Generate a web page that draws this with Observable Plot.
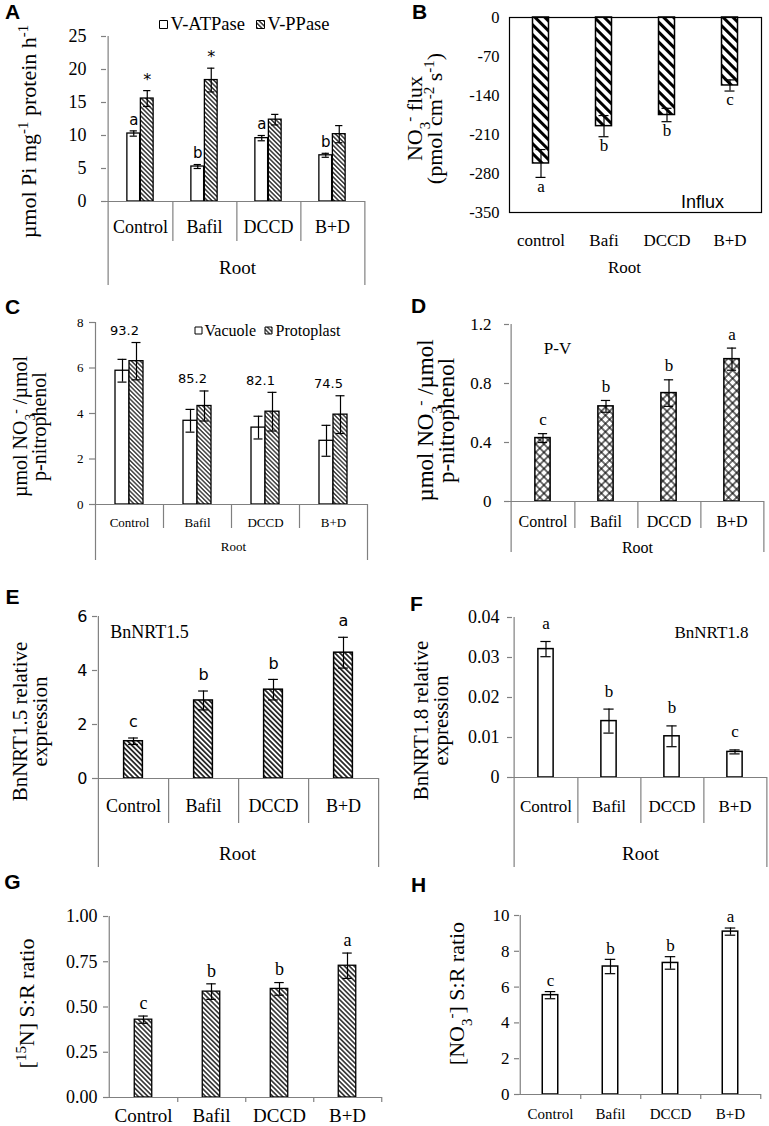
<!DOCTYPE html>
<html><head><meta charset="utf-8">
<script src="https://cdn.jsdelivr.net/npm/d3@7"></script>
<script src="https://cdn.jsdelivr.net/npm/@observablehq/plot@0.6"></script>
<style>
html,body{margin:0;padding:0;background:#fff;}
#fig{position:relative;width:769px;height:1126px;overflow:hidden;background:#fff;}
#fig svg{position:absolute;}
</style></head>
<body><div id="fig"></div>
<script>
// ---------- data ----------
const categories = ["Control", "Bafil", "DCCD", "B+D"];
const categoriesB = ["control", "Bafi", "DCCD", "B+D"];
// A
const vATPase = [10.3, 5.3, 9.6, 7.0];
const vATPaseErr = [0.4, 0.3, 0.4, 0.3];
const vPPase = [15.6, 18.4, 12.4, 10.2];
const vPPaseErr = [1.2, 1.8, 0.8, 1.3];
const lettersA = ["a", "b", "a", "b"];
const starsA = ["*", "*", "", ""];
const ticksA = [0, 5, 10, 15, 20, 25];
// B
const fluxB = [-262, -195, -175, -122];
const fluxBErr = [25, 19, 12, 10];
const lettersB = ["a", "b", "b", "c"];
const ticksB = [0, -70, -140, -210, -280, -350];
// C
const vacuoleC = [5.88, 3.68, 3.38, 2.8];
const vacuoleCErr = [0.5, 0.5, 0.5, 0.68];
const protoplastC = [6.3, 4.33, 4.08, 3.95];
const protoplastCErr = [0.82, 0.66, 0.85, 0.83];
const percentC = ["93.2", "85.2", "82.1", "74.5"];
const ticksC = [0, 2, 4, 6, 8];
// D
const pvD = [0.43, 0.645, 0.735, 0.965];
const pvDErr = [0.03, 0.04, 0.09, 0.075];
const lettersD = ["c", "b", "b", "a"];
const ticksD = [0, 0.4, 0.8, 1.2];
// E
const nrt15E = [1.38, 2.89, 3.29, 4.66];
const nrt15EErr = [0.12, 0.35, 0.38, 0.57];
const lettersE = ["c", "b", "b", "a"];
const ticksE = [0, 2, 4, 6];
// F
const nrt18F = [0.0321, 0.0141, 0.0103, 0.0064];
const nrt18FErr = [0.0019, 0.003, 0.0026, 0.0005];
const lettersF = ["a", "b", "b", "c"];
const ticksF = [0, 0.01, 0.02, 0.03, 0.04];
// G
const n15G = [0.43, 0.585, 0.6, 0.728];
const n15GErr = [0.02, 0.043, 0.035, 0.07];
const lettersG = ["c", "b", "b", "a"];
const ticksG = [0, 0.25, 0.5, 0.75, 1];
// H
const no3H = [5.55, 7.15, 7.35, 9.1];
const no3HErr = [0.2, 0.4, 0.35, 0.2];
const lettersH = ["c", "b", "b", "a"];
const ticksH = [0, 2, 4, 6, 8, 10];

// ---------- helpers ----------
const SERIF = "'Liberation Serif','DejaVu Serif','Times New Roman',Times,serif";
const SANS = "'DejaVu Sans',Verdana,sans-serif";
const ARIAL = "'Liberation Sans',Arial,Helvetica,sans-serif";
const SVGNS = "http://www.w3.org/2000/svg";
const fig = document.getElementById("fig");

function hatch(id, s, w) {
  return `<pattern id="${id}" patternUnits="userSpaceOnUse" width="${s}" height="${s}" patternTransform="rotate(-45)"><rect width="${s}" height="${s}" fill="white"/><line x1="${s/2}" y1="-1" x2="${s/2}" y2="${s+1}" stroke="black" stroke-width="${w}"/></pattern>`;
}
function cross(id, s, w) {
  return `<pattern id="${id}" patternUnits="userSpaceOnUse" width="${s}" height="${s}" patternTransform="rotate(45)"><rect width="${s}" height="${s}" fill="white"/><line x1="${s/2}" y1="-1" x2="${s/2}" y2="${s+1}" stroke="black" stroke-width="${w}"/><line x1="-1" y1="${s/2}" x2="${s+1}" y2="${s/2}" stroke="black" stroke-width="${w}"/></pattern>`;
}

// turn unicode super/subscript characters into real tspans
const SCRIPT = {"⁻": ["-", "sup"], "¹": ["1", "sup"], "²": ["2", "sup"], "⁵": ["5", "sup"], "₃": ["3", "sub"]};
function richify(svg) {
  const walker = document.createTreeWalker(svg, NodeFilter.SHOW_TEXT);
  const nodes = [];
  while (walker.nextNode()) nodes.push(walker.currentNode);
  nodes.forEach(tn => {
    const s = tn.nodeValue;
    if (![...s].some(ch => SCRIPT[ch])) return;
    const frag = document.createDocumentFragment();
    let buf = "", mode = null;
    const flush = () => {
      if (!buf) return;
      if (mode) {
        const t = document.createElementNS(SVGNS, "tspan");
        t.setAttribute("font-size", "68%");
        t.setAttribute("baseline-shift", mode === "sup" ? "super" : "sub");
        t.textContent = buf;
        frag.appendChild(t);
      } else frag.appendChild(document.createTextNode(buf));
      buf = "";
    };
    for (const ch of s) {
      const m = SCRIPT[ch] ? SCRIPT[ch][1] : null;
      if (m !== mode) { flush(); mode = m; }
      buf += SCRIPT[ch] ? SCRIPT[ch][0] : ch;
    }
    flush();
    tn.parentNode.replaceChild(frag, tn);
  });
}

function panel(c) {
  const ox = c.left + c.ml, oy = c.top + c.mt;
  const pw = c.width - c.ml - c.mr, ph = c.height - c.mt - c.mb;
  const bw = pw / c.cats.length;
  const at = (px, py) => ({frameAnchor: "top-left", dx: px - ox, dy: py - oy});
  const axisColor = c.axisColor || "#808080";
  const lw = 1.2;
  const marks = [];

  // bars, error bars, letters
  const tops = c.cats.map(() => -Infinity);
  c.series.forEach(s => {
    const data = c.cats.map((k, i) => ({cat: k, v: s.values[i], e: s.errs[i], lab: s.labels ? s.labels[i] : ""}));
    data.forEach((d, i) => { tops[i] = Math.max(tops[i], d.v + d.e); });
    const insL = bw / 2 + s.offset - s.barW / 2, insR = bw / 2 - s.offset - s.barW / 2;
    marks.push(Plot.barY(data, {x: "cat", y: "v", fill: s.fill, stroke: "black", strokeWidth: s.sw || 1.3, insetLeft: insL, insetRight: insR}));
    marks.push(Plot.ruleX(data, {x: "cat", y1: d => d.v - d.e, y2: d => d.v + d.e, dx: s.offset, stroke: "black", strokeWidth: lw}));
    const capL = bw / 2 + s.offset - c.cap / 2, capR = bw / 2 - s.offset - c.cap / 2;
    marks.push(Plot.tickY(data, {x: "cat", y: d => d.v + d.e, insetLeft: capL, insetRight: capR, stroke: "black", strokeWidth: lw}));
    marks.push(Plot.tickY(data, {x: "cat", y: d => d.v - d.e, insetLeft: capL, insetRight: capR, stroke: "black", strokeWidth: lw}));
    if (s.labels) {
      marks.push(Plot.text(data.filter(d => d.lab), {
        x: "cat", y: s.below ? (d => d.v - d.e) : (d => d.v + d.e), text: "lab",
        dx: s.offset, dy: s.below ? s.labGap : -s.labGap,
        fontFamily: s.labFont, fontSize: s.labSize, lineAnchor: "middle", textAnchor: "middle", fill: "black"
      }));
    }
  });
  if (c.groupLabels) {
    const g = c.groupLabels;
    const gd = c.cats.map((k, i) => ({cat: k, top: tops[i], t: g.texts[i]}));
    marks.push(Plot.text(gd, {x: "cat", y: "top", text: "t", dx: g.dx, dy: -g.gap, fontFamily: g.font, fontSize: g.size, lineAnchor: "middle", fill: "black"}));
  }

  // axes structure
  if (c.xStyle === "frame") {
    marks.push(Plot.frame({stroke: "black", strokeWidth: lw}));
  } else {
    marks.push(Plot.ruleY([0], {stroke: axisColor, strokeWidth: lw}));
    marks.push(Plot.ruleX(c.cats.slice(0, 1), {x: d => d, dx: -bw / 2, insetBottom: -(c.longExt || 0), stroke: axisColor, strokeWidth: lw}));
    if (c.xStyle === "excel") {
      marks.push(Plot.ruleX(c.cats.slice(-1), {x: d => d, dx: bw / 2, insetTop: ph, insetBottom: -c.longExt, stroke: axisColor, strokeWidth: lw}));
      marks.push(Plot.ruleX(c.cats.slice(0, -1), {x: d => d, dx: bw / 2, insetTop: ph, insetBottom: -c.divExt, stroke: axisColor, strokeWidth: lw}));
    } else {
      marks.push(Plot.ruleX(c.cats, {x: d => d, dx: bw / 2, insetTop: ph, insetBottom: -5, stroke: axisColor, strokeWidth: lw}));
    }
  }
  marks.push(Plot.axisY(c.yTicks, {
    anchor: "left", tickSize: c.tickSize, tickPadding: c.tickPad, tickFormat: c.tickFmt,
    fontSize: c.tickFontSize, fontFamily: c.tickFont, color: "black", stroke: axisColor, strokeWidth: lw, label: null
  }));

  // category labels
  marks.push(Plot.text(c.cats.map((k, i) => ({cat: k, t: c.catLabels[i]})), {
    x: "cat", text: "t", frameAnchor: "bottom", dy: c.catY - (oy + ph),
    fontFamily: SERIF, fontSize: c.catSize, lineAnchor: "middle", fill: "black"
  }));
  if (c.root) {
    marks.push(Plot.text(["Root"], {...at(c.root.x, c.root.y), textAnchor: "middle", lineAnchor: "middle", fontFamily: SERIF, fontSize: c.root.size, fill: "black"}));
  }
  // y title
  const yt = c.ytitle;
  marks.push(Plot.text([yt.text], {...at(yt.x, yt.y), rotate: -90, textAnchor: "middle", lineAnchor: "middle", fontFamily: SERIF, fontSize: yt.size, lineHeight: yt.lh || 1, fill: "black"}));
  // extras
  (c.extras || []).forEach(e => {
    marks.push(Plot.text([e.text], {...at(e.x, e.y), textAnchor: "middle", lineAnchor: "middle", fontFamily: e.font, fontSize: e.size, fill: "black"}));
  });
  // legend
  if (c.legend) {
    c.legend.items.forEach(it => {
      marks.push(Plot.dot([0], {...at(it.x, it.y), symbol: "square", r: c.legend.sw / Math.sqrt(Math.PI), fill: it.fill, stroke: "black", strokeWidth: 1}));
      marks.push(Plot.text([it.label], {...at(it.tx, it.y), textAnchor: "start", lineAnchor: "middle", fontFamily: SERIF, fontSize: c.legend.size, fill: "black"}));
    });
  }
  // panel letter
  marks.push(Plot.text([c.letter.t], {...at(c.letter.x, c.letter.y), textAnchor: "middle", lineAnchor: "middle", fontFamily: ARIAL, fontWeight: "bold", fontSize: 21, fill: "black"}));

  const svg = Plot.plot({
    width: c.width, height: c.height,
    marginLeft: c.ml, marginRight: c.mr, marginTop: c.mt, marginBottom: c.mb,
    x: {type: "band", domain: c.cats, padding: 0, axis: null},
    y: {domain: c.yDomain},
    style: {fontFamily: SERIF, fontSize: "16px", background: "transparent", color: "black", overflow: "visible"},
    marks
  });
  if (c.defs) {
    const d = document.createElementNS(SVGNS, "defs");
    d.innerHTML = c.defs;
    svg.insertBefore(d, svg.firstChild);
  }
  richify(svg);
  svg.style.left = c.left + "px";
  svg.style.top = c.top + "px";
  fig.appendChild(svg);
}

const fmtPlain = d => String(d);
const fmtZero = d => d === 0 ? "0" : String(d);

// ---------- A ----------
panel({
  left: 0, top: 0, width: 384, height: 285, ml: 106, mr: 19, mt: 36, mb: 84,
  cats: categories, catLabels: categories, yDomain: [0, 25], yTicks: ticksA, tickFmt: fmtPlain,
  tickFont: SERIF, tickFontSize: 18, tickSize: 5, tickPad: 15,
  xStyle: "excel", longExt: 84, divExt: 40, cap: 8,
  series: [
    {values: vATPase, errs: vATPaseErr, fill: "white", barW: 13.5, offset: -6.75, labels: lettersA, labFont: SANS, labSize: 15, labGap: 11},
    {values: vPPase, errs: vPPaseErr, fill: "url(#hA)", barW: 13.5, offset: 6.75, labels: starsA, labFont: SANS, labSize: 16, labGap: 11}
  ],
  catY: 227, catSize: 18, root: {x: 237, y: 267, size: 19},
  ytitle: {text: "µmol Pi mg⁻¹ protein h⁻¹", x: 28, y: 131, size: 22},
  legend: {size: 18.5, sw: 8, items: [
    {x: 163, y: 24, fill: "white", label: "V-ATPase", tx: 170},
    {x: 260, y: 24, fill: "url(#hA)", label: "V-PPase", tx: 267}
  ]},
  letter: {t: "A", x: 12, y: 12},
  defs: hatch("hA", 3.2, 1.2)
});

// ---------- B ----------
panel({
  left: 384, top: 0, width: 385, height: 285, ml: 125, mr: 8, mt: 17, mb: 73,
  cats: categoriesB, catLabels: categoriesB, yDomain: [-350, 0], yTicks: ticksB, tickFmt: fmtPlain,
  tickFont: SERIF, tickFontSize: 16.5, tickSize: 0, tickPad: 10, axisColor: "black",
  xStyle: "frame", cap: 10,
  series: [
    {values: fluxB, errs: fluxBErr, fill: "url(#hB)", barW: 16, offset: 0, sw: 1.5, labels: lettersB, below: true, labFont: SERIF, labSize: 17, labGap: 9}
  ],
  catY: 240, catSize: 17, root: {x: 624, y: 267, size: 17},
  ytitle: {text: "NO₃⁻ flux\n(pmol cm⁻² s⁻¹)", x: 425, y: 118, size: 22, lh: 0.92},
  extras: [{text: "Influx", x: 702, y: 202, font: ARIAL, size: 18}],
  letter: {t: "B", x: 419, y: 12},
  defs: hatch("hB", 7, 3)
});

// ---------- C ----------
panel({
  left: 0, top: 280, width: 384, height: 282, ml: 95, mr: 17, mt: 42, mb: 58,
  cats: categories, catLabels: categories, yDomain: [0, 8], yTicks: ticksC, tickFmt: fmtPlain,
  tickFont: SERIF, tickFontSize: 13, tickSize: 6, tickPad: 6,
  xStyle: "excel", longExt: 56, divExt: 24, cap: 9,
  series: [
    {values: vacuoleC, errs: vacuoleCErr, fill: "white", barW: 14, offset: -7},
    {values: protoplastC, errs: protoplastCErr, fill: "url(#hC)", barW: 14, offset: 7}
  ],
  groupLabels: {texts: percentC, font: SANS, size: 13, gap: 12, dx: -5},
  catY: 522, catSize: 13, root: {x: 233, y: 546, size: 13},
  ytitle: {text: "µmol NO₃⁻ /µmol\np-nitrophenol", x: 30, y: 426, size: 20, lh: 0.95},
  legend: {size: 16, sw: 7, items: [
    {x: 198, y: 330, fill: "white", label: "Vacuole", tx: 204},
    {x: 268, y: 330, fill: "url(#hC)", label: "Protoplast", tx: 275}
  ]},
  letter: {t: "C", x: 12, y: 307},
  defs: hatch("hC", 3.1, 1.1)
});

// ---------- D ----------
panel({
  left: 384, top: 280, width: 385, height: 282, ml: 125, mr: 5, mt: 44, mb: 61,
  cats: categories, catLabels: categories, yDomain: [0, 1.2], yTicks: ticksD, tickFmt: fmtZero,
  tickFont: SERIF, tickFontSize: 17, tickSize: 5, tickPad: 13,
  xStyle: "excel", longExt: 51, divExt: 27, cap: 10,
  series: [
    {values: pvD, errs: pvDErr, fill: "url(#xD)", barW: 16, offset: 0, sw: 1.5, labels: lettersD, labFont: SERIF, labSize: 17, labGap: 14}
  ],
  catY: 521, catSize: 16, root: {x: 637, y: 547, size: 16},
  ytitle: {text: "µmol NO₃⁻ /µmol\np-nitrophenol", x: 436, y: 420, size: 23, lh: 0.92},
  extras: [{text: "P-V", x: 557, y: 348, font: SERIF, size: 17}],
  letter: {t: "D", x: 418, y: 306},
  defs: cross("xD", 5.8, 1.1)
});

// ---------- E ----------
panel({
  left: 0, top: 560, width: 384, height: 310, ml: 97, mr: 6, mt: 56, mb: 92,
  cats: categories, catLabels: categories, yDomain: [0, 6], yTicks: ticksE, tickFmt: fmtPlain,
  tickFont: SANS, tickFontSize: 16, tickSize: 5, tickPad: 5,
  xStyle: "excel", longExt: 89, divExt: 45, cap: 10,
  series: [
    {values: nrt15E, errs: nrt15EErr, fill: "url(#hE)", barW: 19, offset: 0, sw: 1.5, labels: lettersE, labFont: SANS, labSize: 16, labGap: 16}
  ],
  catY: 806, catSize: 18, root: {x: 237, y: 853, size: 19},
  ytitle: {text: "BnNRT1.5 relative\nexpression", x: 30, y: 721, size: 21, lh: 0.95},
  extras: [{text: "BnNRT1.5", x: 149, y: 632, font: SERIF, size: 18}],
  letter: {t: "E", x: 12, y: 597},
  defs: hatch("hE", 3.6, 1.5)
});

// ---------- F ----------
panel({
  left: 384, top: 560, width: 385, height: 310, ml: 128, mr: 2, mt: 57, mb: 93,
  cats: categories, catLabels: categories, yDomain: [0, 0.04], yTicks: ticksF, tickFmt: d => d === 0 ? "0" : d.toFixed(2),
  tickFont: SERIF, tickFontSize: 18, tickSize: 5, tickPad: 8,
  xStyle: "excel", longExt: 90, divExt: 46, cap: 11,
  series: [
    {values: nrt18F, errs: nrt18FErr, fill: "white", barW: 16, offset: 0, sw: 1.5, labels: lettersF, labFont: SERIF, labSize: 17, labGap: 18}
  ],
  catY: 806, catSize: 17, root: {x: 640, y: 853, size: 19},
  ytitle: {text: "BnNRT1.8 relative\nexpression", x: 431, y: 720, size: 21, lh: 0.95},
  extras: [{text: "BnNRT1.8", x: 711, y: 632, font: SERIF, size: 17}],
  letter: {t: "F", x: 416, y: 604}
});

// ---------- G ----------
panel({
  left: 0, top: 850, width: 384, height: 276, ml: 108, mr: 2, mt: 66, mb: 29,
  cats: categories, catLabels: categories, yDomain: [0, 1], yTicks: ticksG, tickFmt: d => d.toFixed(2),
  tickFont: SERIF, tickFontSize: 18, tickSize: 5, tickPad: 6,
  xStyle: "ticks", cap: 10,
  series: [
    {values: n15G, errs: n15GErr, fill: "url(#hG)", barW: 18, offset: 0, sw: 1.3, labels: lettersG, labFont: SERIF, labSize: 18, labGap: 13}
  ],
  catY: 1115, catSize: 19,
  ytitle: {text: "[¹⁵N] S:R ratio", x: 26, y: 1003, size: 22},
  letter: {t: "G", x: 12, y: 882},
  defs: hatch("hG", 3.4, 1.3)
});

// ---------- H ----------
panel({
  left: 384, top: 850, width: 385, height: 276, ml: 135, mr: 8, mt: 65, mb: 32,
  cats: categories, catLabels: categories, yDomain: [0, 10], yTicks: ticksH, tickFmt: fmtPlain,
  tickFont: SERIF, tickFontSize: 17, tickSize: 5, tickPad: 5,
  xStyle: "ticks", cap: 11,
  series: [
    {values: no3H, errs: no3HErr, fill: "white", barW: 16, offset: 0, sw: 1.5, labels: lettersH, labFont: SERIF, labSize: 17, labGap: 11}
  ],
  catY: 1114, catSize: 15,
  ytitle: {text: "[NO₃⁻] S:R ratio", x: 456, y: 993, size: 22},
  letter: {t: "H", x: 418, y: 885}
});
</script>
</body></html>
